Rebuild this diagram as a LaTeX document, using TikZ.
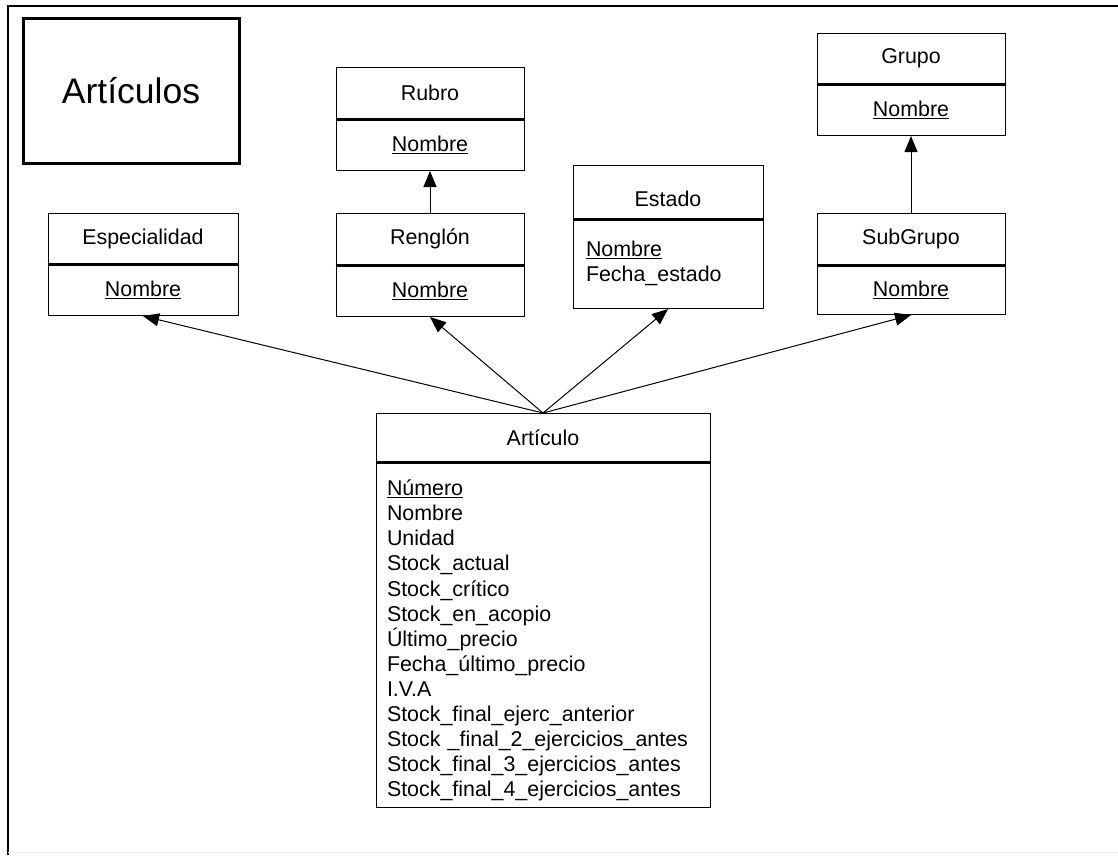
\documentclass[tikz,border=0pt]{standalone}
\usepackage{fontspec}
\setmainfont{Liberation Sans}
\usetikzlibrary{arrows.meta}

% primary-key attribute
\newcommand\pkey[1]{\underline{#1}}

\tikzset{
  x=1pt, y=-1pt,
  txt/.style={font=\fontsize{21.4}{25.1}\selectfont},
  hdr/.style={txt, draw, line width=1pt, anchor=north, inner sep=0pt},
  bdy/.style={txt, draw, line width=1pt, anchor=north, inner sep=0pt},
  attrs/.style={align=left, inner xsep=#1, inner ysep=0pt},
  divider/.style={line width=3pt},
  link/.style={line width=1pt, -{Triangle[length=16pt,width=13pt]}},
  titlebox/.style={draw, line width=3pt, minimum width=216, minimum height=145,
                   font=\fontsize{35.5}{40}\selectfont}
}

\begin{document}
\begin{tikzpicture}
\useasboundingbox (0,0) rectangle (1118,855);

% page frame
\draw[line width=1.5pt] (8,855) -- (8,6) -- (1118,6);
\draw[black!8, line width=1pt] (8,852) -- (1118,852);

% diagram title
\node[titlebox] (title) at (131,90.5) {Artículos};

% Especialidad
\node[hdr, minimum width=190, minimum height=50] (esph) at (143,213) {Especialidad};
\node[bdy, minimum width=190, minimum height=52] (esp) at (143,263) {\pkey{Nombre}};
\draw[divider] (esph.south west) -- (esph.south east);

% Rubro
\node[hdr, minimum width=188, minimum height=51] (rubh) at (430,67) {Rubro};
\node[bdy, minimum width=188, minimum height=52] (rub) at (430,118) {\pkey{Nombre}};
\draw[divider] (rubh.south west) -- (rubh.south east);

% Renglón
\node[hdr, minimum width=188, minimum height=51] (renh) at (430,213) {Renglón};
\node[bdy, minimum width=188, minimum height=52] (ren) at (430,264) {\pkey{Nombre}};
\draw[divider] (renh.south west) -- (renh.south east);

% Estado (title sits low in its header)
\node[hdr, minimum width=190, minimum height=53] (esth) at (668,165)
  {\raisebox{-7pt}[\height][\depth]{Estado}};
\node[bdy, attrs=13pt, text width=164pt, minimum height=90] (est) at (668,218)
  {\pkey{Nombre}\\Fecha\_estado};
\draw[divider] (esth.south west) -- (esth.south east);

% Grupo
\node[hdr, minimum width=188, minimum height=50] (gruh) at (911,33) {Grupo};
\node[bdy, minimum width=188, minimum height=52] (gru) at (911,83) {\pkey{Nombre}};
\draw[divider] (gruh.south west) -- (gruh.south east);

% SubGrupo
\node[hdr, minimum width=188, minimum height=51] (subh) at (911,213) {SubGrupo};
\node[bdy, minimum width=188, minimum height=50] (sub) at (911,264) {\pkey{Nombre}};
\draw[divider] (subh.south west) -- (subh.south east);

% Artículo
\node[hdr, minimum width=334, minimum height=48] (arth) at (543,413) {Artículo};
\node[bdy, attrs=11pt, text width=312pt, minimum height=346] (art) at (543,461)
  {\rule{0pt}{28pt}\pkey{Número}\\
   Nombre\\
   Unidad\\
   Stock\_actual\\
   Stock\_crítico\\
   Stock\_en\_acopio\\
   Último\_precio\\
   Fecha\_último\_precio\\
   I.V.A\\
   Stock\_final\_ejerc\_anterior\\
   Stock \_final\_2\_ejercicios\_antes\\
   Stock\_final\_3\_ejercicios\_antes\\
   Stock\_final\_4\_ejercicios\_antes};
\draw[divider] (arth.south west) -- (arth.south east);

% associations
\draw[link] (arth.north) -- (esp.south);
\draw[link] (arth.north) -- (ren.south);
\draw[link] (arth.north) -- (est.south);
\draw[link] (arth.north) -- (sub.south);
\draw[link] (renh.north) -- (rub.south);
\draw[link] (subh.north) -- (gru.south);
\end{tikzpicture}
\end{document}
